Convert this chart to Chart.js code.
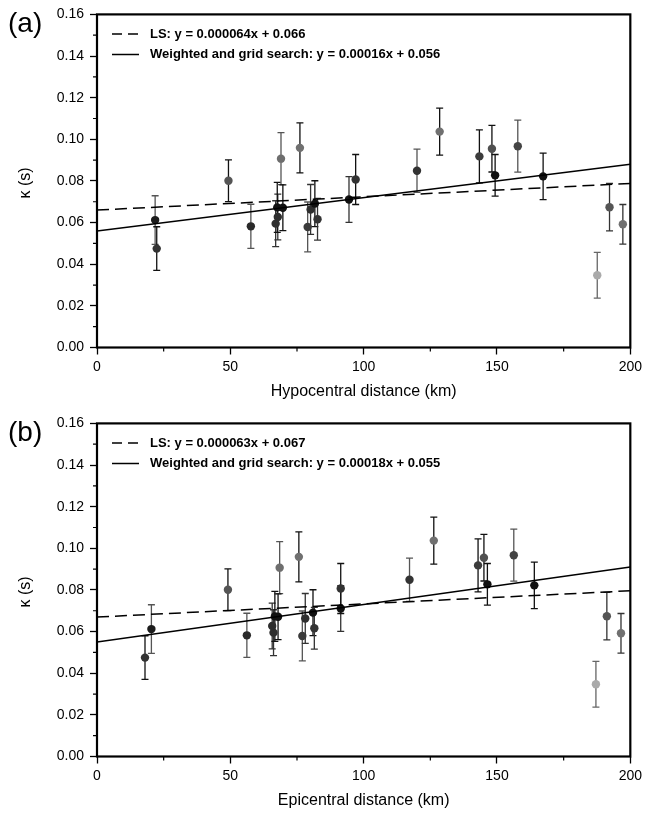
<!DOCTYPE html>
<html>
<head>
<meta charset="utf-8">
<script src="https://cdn.jsdelivr.net/npm/chart.js@4.4.0/dist/chart.umd.min.js"></script>
<style>
  body { margin: 0; background: #fff; overflow: hidden; }
  .panel { position: absolute; left: 0; width: 646px; height: 409px; }
</style>
</head>
<body>
<div class="panel" style="top:0"><canvas id="chartA" width="646" height="409"></canvas></div>
<div class="panel" style="top:409px"><canvas id="chartB" width="646" height="409"></canvas></div>
<script>
// kappa per station, same for both panels
var kappa    = [0.0612, 0.0475, 0.0801, 0.0582, 0.0595, 0.0627, 0.0673, 0.0907, 0.0671, 0.0959, 0.0579, 0.0663, 0.0691,
                0.0616, 0.0711, 0.0807, 0.0849, 0.1037, 0.0918, 0.0955, 0.0827, 0.0967, 0.0822, 0.0347, 0.0674, 0.0592];
var kappaErr = [0.0117, 0.0105, 0.0100, 0.0106, 0.0110, 0.0110, 0.0120, 0.0125, 0.0110, 0.0120, 0.0120, 0.0120, 0.0110,
                0.0100, 0.0110, 0.0120, 0.0104, 0.0113, 0.0127, 0.0112, 0.0100, 0.0125, 0.0112, 0.0110, 0.0114, 0.0095];
var hypoDist = [21.8, 22.4, 49.3, 57.7, 67.0, 67.8, 67.6, 69.0, 69.7, 76.1, 79.0, 80.1, 81.7,
                82.7, 94.5, 97.0, 120.0, 128.5, 143.4, 148.1, 149.3, 157.8, 167.3, 187.6, 192.2, 197.2];
var epiDist  = [20.4, 18.0, 49.1, 56.2, 66.2, 65.7, 66.7, 68.5, 67.9, 75.7, 77.0, 78.1, 81.0,
                81.5, 91.4, 91.4, 117.2, 126.3, 142.9, 145.1, 146.4, 156.3, 164.0, 187.1, 191.2, 196.5];
var shade    = ['#1c1c1c', '#333', '#555', '#2a2a2a', '#2e2e2e', '#2e2e2e', '#111', '#6e6e6e', '#111', '#707070', '#3a3a3a', '#2e2e2e', '#111',
                '#333', '#111', '#333', '#333', '#707070', '#3c3c3c', '#505050', '#111', '#444', '#111', '#aaa', '#555', '#707070'];
var barShade = ['#555', '#111', '#111', '#555', '#333', '#333', '#111', '#555', '#111', '#111', '#555', '#333', '#111',
                '#333', '#333', '#111', '#555', '#111', '#111', '#111', '#111', '#555', '#111', '#666', '#333', '#333'];

// fitted lines, panel (a) then (b)
var lsSlope = [0.000064, 0.000063];
var lsIntercept = [0.066, 0.067];
var wSlope = [0.00016, 0.00018];
var wIntercept = [0.056, 0.055];
var lsLabel = ['LS: y = 0.000064x + 0.066', 'LS: y = 0.000063x + 0.067'];
var wLabel = ['Weighted and grid search: y = 0.00016x + 0.056', 'Weighted and grid search: y = 0.00018x + 0.055'];

var panelLetter = ['(a)', '(b)'];
var xTitles = ['Hypocentral distance (km)', 'Epicentral distance (km)'];
var yTitle = '\u03BA (s)';
var xMinor = [25, 75, 125, 175];
var yMinor = [0.01, 0.03, 0.05, 0.07, 0.09, 0.11, 0.13, 0.15];

var FONT = '"Liberation Sans", Arial, Helvetica, sans-serif';

var extras = {
  id: 'extras',
  beforeDatasetsDraw: function(chart) {
    var o = chart.options.plugins.extras;
    var ctx = chart.ctx, xs = chart.scales.x, ys = chart.scales.y;
    ctx.save();
    ctx.lineWidth = 1.3;
    o.dist.forEach(function(d, i) {
      var px = xs.getPixelForValue(d);
      var top = ys.getPixelForValue(kappa[i] + kappaErr[i]);
      var bot = ys.getPixelForValue(kappa[i] - kappaErr[i]);
      ctx.strokeStyle = barShade[i];
      ctx.beginPath();
      ctx.moveTo(px, top); ctx.lineTo(px, bot);
      ctx.moveTo(px - 3.5, top); ctx.lineTo(px + 3.5, top);
      ctx.moveTo(px - 3.5, bot); ctx.lineTo(px + 3.5, bot);
      ctx.stroke();
    });
    ctx.restore();
  },
  afterDraw: function(chart) {
    var o = chart.options.plugins.extras;
    var ctx = chart.ctx, a = chart.chartArea, xs = chart.scales.x, ys = chart.scales.y;
    ctx.save();
    // frame
    ctx.strokeStyle = '#000';
    ctx.lineWidth = 2.2;
    ctx.strokeRect(a.left, a.top, a.right - a.left, a.bottom - a.top);
    // minor ticks
    ctx.lineWidth = 1.2;
    ctx.beginPath();
    xMinor.forEach(function(v) {
      var px = xs.getPixelForValue(v);
      ctx.moveTo(px, a.bottom); ctx.lineTo(px, a.bottom + 4);
    });
    yMinor.forEach(function(v) {
      var py = ys.getPixelForValue(v);
      ctx.moveTo(a.left, py); ctx.lineTo(a.left - 4, py);
    });
    ctx.stroke();
    // titles
    ctx.fillStyle = '#000';
    ctx.textAlign = 'center';
    ctx.textBaseline = 'middle';
    ctx.font = '16px ' + FONT;
    ctx.fillText(o.xTitle, (a.left + a.right) / 2, 392);
    ctx.save();
    ctx.translate(26, (a.top + a.bottom) / 2 + 2);
    ctx.rotate(-Math.PI / 2);
    ctx.fillText(yTitle, 0, 0);
    ctx.restore();
    ctx.textAlign = 'left';
    ctx.font = '28px ' + FONT;
    ctx.fillText(o.letter, 8, 24);
    // legend
    ctx.font = 'bold 13px ' + FONT;
    ctx.fillText(o.lsText, 150, 34);
    ctx.fillText(o.wText, 150, 54.5);
    ctx.lineWidth = 1.5;
    ctx.setLineDash([10, 6]);
    ctx.beginPath(); ctx.moveTo(112, 34); ctx.lineTo(139, 34); ctx.stroke();
    ctx.setLineDash([]);
    ctx.beginPath(); ctx.moveTo(112, 54.5); ctx.lineTo(139, 54.5); ctx.stroke();
    ctx.restore();
  }
};

function makeChart(id, k, dist) {
  var pts = dist.map(function(d, i) { return { x: d, y: kappa[i] }; });
  new Chart(document.getElementById(id).getContext('2d'), {
    type: 'scatter',
    data: {
      datasets: [{
        data: [{ x: 0, y: wIntercept[k] }, { x: 200, y: wSlope[k] * 200 + wIntercept[k] }],
        showLine: true, borderColor: '#000', borderWidth: 1.5, pointRadius: 0, order: 1
      }, {
        data: [{ x: 0, y: lsIntercept[k] }, { x: 200, y: lsSlope[k] * 200 + lsIntercept[k] }],
        showLine: true, borderColor: '#000', borderWidth: 1.5, borderDash: [12, 6], pointRadius: 0, order: 2
      }, {
        data: pts,
        pointRadius: 4.2, pointBackgroundColor: shade, pointBorderWidth: 0, order: 3
      }]
    },
    options: {
      responsive: false,
      animation: false,
      layout: { padding: { left: 0, top: 13, right: 13, bottom: 0 } },
      plugins: {
        legend: { display: false },
        tooltip: { enabled: false },
        extras: { dist: dist, xTitle: xTitles[k], letter: panelLetter[k], lsText: lsLabel[k], wText: wLabel[k] }
      },
      scales: {
        x: {
          type: 'linear', min: 0, max: 200,
          afterFit: function(s) { s.height = 61.5; },
          grid: { drawOnChartArea: false, tickLength: 7, tickColor: '#000', tickWidth: 1.3 },
          border: { display: false },
          ticks: { stepSize: 50, padding: 4, color: '#000', font: { size: 14, family: FONT } }
        },
        y: {
          min: 0, max: 0.16,
          afterFit: function(s) { s.width = 97; },
          grid: { drawOnChartArea: false, tickLength: 7, tickColor: '#000', tickWidth: 1.3 },
          border: { display: false },
          ticks: { stepSize: 0.02, padding: 6, color: '#000', font: { size: 14, family: FONT },
                   callback: function(v) { return v.toFixed(2); } }
        }
      }
    },
    plugins: [extras]
  });
}

makeChart('chartA', 0, hypoDist);
makeChart('chartB', 1, epiDist);
</script>
</body>
</html>
